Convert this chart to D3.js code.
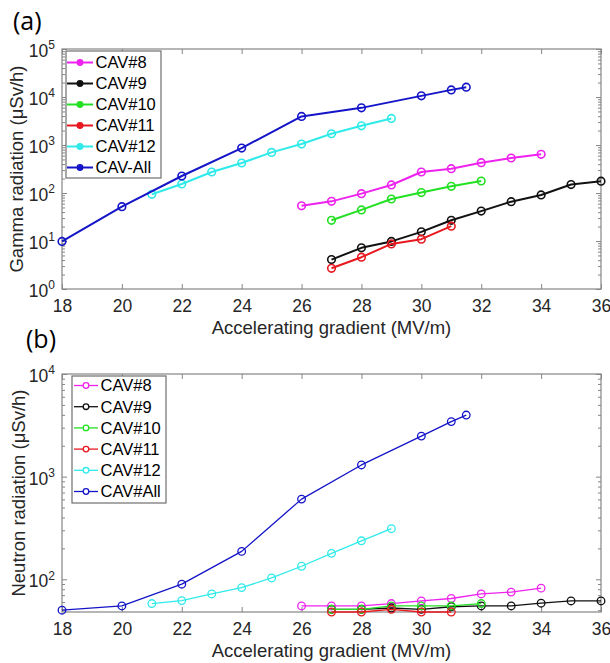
<!DOCTYPE html>
<html>
<head>
<meta charset="utf-8">
<script src="https://cdn.jsdelivr.net/npm/d3@7"></script>
<style>
  body { margin: 0; background: #fff; }
  svg { display: block; font-family: "Liberation Sans", Arial, sans-serif; }
</style>
</head>
<body>
<svg id="chart" width="610" height="663"></svg>
<script>
// ---- Data -------------------------------------------------------------
const gradientTicks = [18, 20, 22, 24, 26, 28, 30, 32, 34, 36];

const seriesNames = ["CAV#8", "CAV#9", "CAV#10", "CAV#11", "CAV#12"];
const gammaAllName = "CAV-All";
const neutronAllName = "CAV#All";

// Gamma radiation (µSv/h) vs accelerating gradient (MV/m)
const gammaCav8X  = [26, 27, 28, 29, 30, 31, 32, 33, 34];
const gammaCav8   = [54, 67, 97, 147, 274, 321, 428, 536, 640];
const gammaCav9X  = [27, 28, 29, 30, 31, 32, 33, 34, 35, 36];
const gammaCav9   = [4.1, 7.2, 9.8, 15.5, 27, 42, 66, 91, 150, 176];
const gammaCav10X = [27, 28, 29, 30, 31, 32];
const gammaCav10  = [27, 44.5, 75, 102, 138, 178];
const gammaCav11X = [27, 28, 29, 30, 31];
const gammaCav11  = [2.7, 4.6, 8.7, 10.9, 20.4];
const gammaCav12X = [21, 22, 23, 24, 25, 26, 27, 28, 29];
const gammaCav12  = [94, 154, 274, 422, 702, 1046, 1715, 2510, 3570];
const gammaAllX   = [18, 20, 22, 24, 26, 28, 30, 31, 31.5];
const gammaAll    = [9.8, 52, 226, 864, 3930, 5940, 10560, 14070, 16000];

// Neutron radiation (µSv/h) vs accelerating gradient (MV/m)
const neutronCav8X  = [26, 27, 28, 29, 30, 31, 32, 33, 34];
const neutronCav8   = [55, 55, 55, 58, 61.5, 65, 72, 75, 82];
const neutronCav9X  = [27, 28, 29, 30, 31, 32, 33, 34, 35, 36];
const neutronCav9   = [51, 51, 52.5, 51, 54, 55, 55, 58.5, 61.5, 61.5];
const neutronCav10X = [27, 28, 29, 30, 31, 32];
const neutronCav10  = [51, 51, 55, 55, 55, 58];
const neutronCav11X = [27, 28, 29, 30, 31];
const neutronCav11  = [48, 48, 51, 48, 48];
const neutronCav12X = [21, 22, 23, 24, 25, 26, 27, 28, 29];
const neutronCav12  = [58, 62, 72, 83, 103, 134, 179, 237, 311];
const neutronAllX   = [18, 20, 22, 24, 26, 28, 30, 31, 31.5];
const neutronAll    = [50, 55, 89.6, 187, 604, 1300, 2483, 3436, 3981];

// ---- Styling -------------------------------------------------------------
const seriesColors = ["#ee22ee", "#111111", "#22e022", "#e8181f", "#30eaea", "#1414c8"];
const axisGray = "#858585";
const textColor = "#262626";

const zip = (xs, ys) => xs.map((v, i) => [v, ys[i]]);

const gammaSeries = [
  { name: seriesNames[0], pts: zip(gammaCav8X, gammaCav8) },
  { name: seriesNames[1], pts: zip(gammaCav9X, gammaCav9) },
  { name: seriesNames[2], pts: zip(gammaCav10X, gammaCav10) },
  { name: seriesNames[3], pts: zip(gammaCav11X, gammaCav11) },
  { name: seriesNames[4], pts: zip(gammaCav12X, gammaCav12) },
  { name: gammaAllName,   pts: zip(gammaAllX, gammaAll) }
];
const neutronSeries = [
  { name: seriesNames[0], pts: zip(neutronCav8X, neutronCav8) },
  { name: seriesNames[1], pts: zip(neutronCav9X, neutronCav9) },
  { name: seriesNames[2], pts: zip(neutronCav10X, neutronCav10) },
  { name: seriesNames[3], pts: zip(neutronCav11X, neutronCav11) },
  { name: seriesNames[4], pts: zip(neutronCav12X, neutronCav12) },
  { name: neutronAllName, pts: zip(neutronAllX, neutronAll) }
];

const svg = d3.select("#chart");
svg.append("rect").attr("width", 610).attr("height", 663).attr("fill", "#fff");

function drawPanel(cfg) {
  const g = svg.append("g");
  const x = d3.scaleLinear().domain([18, 36]).range([cfg.left, cfg.right]);
  const y = d3.scaleLog().domain(cfg.yDomain).range([cfg.bottom, cfg.top]);

  const lo = Math.floor(Math.log10(cfg.yDomain[0]));
  const hi = Math.ceil(Math.log10(cfg.yDomain[1]));
  const majors = [], minors = [];
  for (let k = lo; k <= hi; k++) {
    const p = Math.pow(10, k);
    if (p >= cfg.yDomain[0] && p <= cfg.yDomain[1]) majors.push(p);
    for (let m = 2; m <= 9; m++) {
      const v = m * p;
      if (v > cfg.yDomain[0] && v < cfg.yDomain[1]) minors.push(v);
    }
  }

  // white plot area + box
  g.append("rect")
    .attr("x", cfg.left).attr("y", cfg.top)
    .attr("width", cfg.right - cfg.left).attr("height", cfg.bottom - cfg.top)
    .attr("fill", "#fff").attr("stroke", axisGray).attr("stroke-width", 1.2);

  const styleAxis = sel => {
    sel.select(".domain").remove();
    sel.selectAll(".tick line").attr("stroke", axisGray).attr("stroke-width", 1);
    sel.selectAll(".tick text").attr("fill", textColor).attr("font-size", 17.5);
  };

  g.append("g").attr("transform", `translate(0,${cfg.bottom})`)
    .call(d3.axisBottom(x).tickValues(gradientTicks).tickSizeInner(-5).tickSizeOuter(0)
      .tickPadding(11).tickFormat(d3.format("d")))
    .call(styleAxis);
  g.append("g").attr("transform", `translate(0,${cfg.top})`)
    .call(d3.axisTop(x).tickValues(gradientTicks).tickSizeInner(-5).tickSizeOuter(0).tickFormat(""))
    .call(styleAxis);

  const left = g.append("g").attr("transform", `translate(${cfg.left},0)`)
    .call(d3.axisLeft(y).tickValues(majors).tickSizeInner(-5).tickSizeOuter(0).tickPadding(7))
    .call(styleAxis);
  left.selectAll(".tick text").each(function (d) {
    const t = d3.select(this);
    t.text(null).attr("dy", "0.42em");
    t.append("tspan").text("10");
    t.append("tspan").attr("dy", "-0.62em").attr("font-size", 12).text(Math.round(Math.log10(d)));
  });
  g.append("g").attr("transform", `translate(${cfg.left},0)`)
    .call(d3.axisLeft(y).tickValues(minors).tickSizeInner(-3).tickSizeOuter(0).tickFormat(""))
    .call(styleAxis);
  g.append("g").attr("transform", `translate(${cfg.right},0)`)
    .call(d3.axisRight(y).tickValues(majors).tickSizeInner(-5).tickSizeOuter(0).tickFormat(""))
    .call(styleAxis);
  g.append("g").attr("transform", `translate(${cfg.right},0)`)
    .call(d3.axisRight(y).tickValues(minors).tickSizeInner(-3).tickSizeOuter(0).tickFormat(""))
    .call(styleAxis);

  // axis titles
  g.append("text")
    .attr("x", (cfg.left + cfg.right) / 2).attr("y", cfg.bottom + 45)
    .attr("text-anchor", "middle").attr("font-size", 18.5).attr("fill", textColor)
    .text("Accelerating gradient (MV/m)");
  g.append("text")
    .attr("transform", `translate(${cfg.yTitleX},${(cfg.top + cfg.bottom) / 2}) rotate(-90)`)
    .attr("text-anchor", "middle").attr("font-size", 18.5).attr("fill", textColor)
    .text(cfg.yTitle);

  // panel letter
  g.append("text")
    .attr("x", cfg.letterX).attr("y", cfg.letterY)
    .attr("font-family", "'Open Sans', sans-serif").attr("font-size", 25).attr("fill", "#000")
    .text(cfg.letter);

  // series
  const line = d3.line().x(d => x(d[0])).y(d => y(d[1]));
  cfg.series.forEach((s, i) => {
    const sg = g.append("g");
    sg.append("path").datum(s.pts)
      .attr("d", line).attr("fill", "none")
      .attr("stroke", seriesColors[i]).attr("stroke-width", cfg.lineWidth)
      .attr("stroke-linejoin", "round");
    sg.selectAll("circle").data(s.pts).join("circle")
      .attr("cx", d => x(d[0])).attr("cy", d => y(d[1]))
      .attr("r", 3.8).attr("fill", "none")
      .attr("stroke", seriesColors[i]).attr("stroke-width", cfg.markerWidth);
  });

  // legend
  const L = cfg.legend;
  const lg = g.append("g");
  lg.append("rect")
    .attr("x", L.x).attr("y", L.y).attr("width", L.w).attr("height", L.h)
    .attr("fill", "#fff").attr("stroke", "#6e6e6e").attr("stroke-width", 1.2);
  cfg.series.forEach((s, i) => {
    const ry = L.row0 + i * L.step;
    lg.append("line")
      .attr("x1", L.lineX0).attr("x2", L.lineX1).attr("y1", ry).attr("y2", ry)
      .attr("stroke", seriesColors[i]).attr("stroke-width", cfg.lineWidth);
    lg.append("circle")
      .attr("cx", (L.lineX0 + L.lineX1) / 2).attr("cy", ry).attr("r", 2.8)
      .attr("fill", cfg.legendFill ? seriesColors[i] : "#fff")
      .attr("stroke", seriesColors[i]).attr("stroke-width", 1.3);
    lg.append("text")
      .attr("x", L.textX).attr("y", ry).attr("dy", "0.36em")
      .attr("font-size", 16.5).attr("fill", "#000")
      .text(s.name);
  });
}

drawPanel({
  top: 49, bottom: 289, left: 62, right: 601, yDomain: [1, 1e5],
  yTitle: "Gamma radiation (\u03bcSv/h)", yTitleX: 23,
  letter: "(a)", letterX: 13, letterY: 30,
  series: gammaSeries, lineWidth: 2, markerWidth: 1.6, legendFill: true,
  legend: { x: 66, y: 51, w: 95, h: 127, row0: 62.5, step: 21, lineX0: 67, lineX1: 93, textX: 95.5 }
});

drawPanel({
  top: 374, bottom: 612, left: 62, right: 601, yDomain: [48, 1e4],
  yTitle: "Neutron radiation (\u03bcSv/h)", yTitleX: 25,
  letter: "(b)", letterX: 26, letterY: 348,
  series: neutronSeries, lineWidth: 1.3, markerWidth: 1.3, legendFill: false,
  legend: { x: 72, y: 376, w: 94, h: 127, row0: 385.5, step: 21.2, lineX0: 74, lineX1: 98, textX: 100.5 }
});
</script>
</body>
</html>
